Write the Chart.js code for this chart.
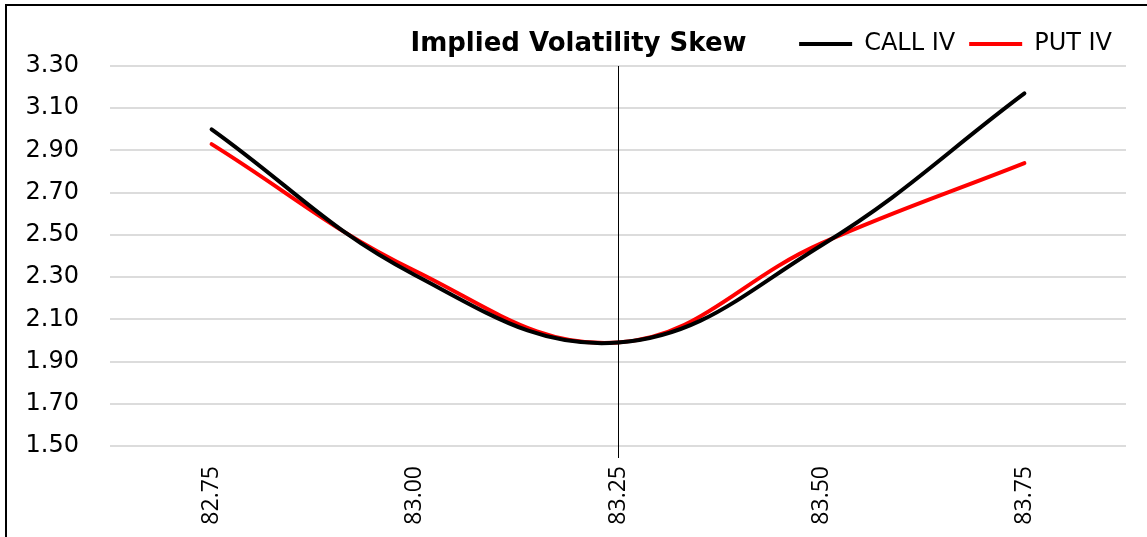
<!DOCTYPE html>
<html>
<head>
<meta charset="utf-8">
<script src="https://cdn.jsdelivr.net/npm/chart.js@4/dist/chart.umd.min.js"></script>
<style>
    html, body { margin: 0; padding: 0; background: #fff; overflow: hidden; }
    #frame {
        position: absolute; left: 5px; top: 4px; width: 1200px; height: 600px;
        border-left: 2px solid #000; border-top: 2px solid #000;
    }
    #wrap { position: absolute; left: 0; top: 0; width: 1147px; height: 537px; }
</style>
</head>
<body>
<div id="frame"></div>
<div id="wrap"><canvas id="ivChart" width="1147" height="537"></canvas></div>
<script>
// Chart data
const strikes = ['82.75', '83.00', '83.25', '83.50', '83.75'];
const callIV = [3.00, 2.31, 1.99, 2.45, 3.17];
const putIV = [2.93, 2.33, 1.99, 2.46, 2.84];
const atmStrike = '83.25';
const chartTitle = 'Implied Volatility Skew';

const font = "'DejaVu Sans', sans-serif";
const strikeFont = "'Open Sans', sans-serif";

// title drawn in the legend row, left of the legend
const titlePlugin = {
    id: 'titleRow',
    afterDraw(chart) {
        const ctx = chart.ctx;
        ctx.save();
        ctx.font = "bold 26px " + font;
        ctx.fillStyle = '#000';
        ctx.textAlign = 'center';
        ctx.textBaseline = 'alphabetic';
        ctx.fillText(chartTitle, chart.width / 2 + 5, 51);
        ctx.restore();
    }
};

// vertical marker at the ATM strike
const atmLine = {
    id: 'atmLine',
    afterDatasetsDraw(chart) {
        const x = Math.round(chart.scales.x.getPixelForValue(atmStrike)) + 0.5;
        const area = chart.chartArea;
        const ctx = chart.ctx;
        ctx.save();
        ctx.strokeStyle = '#000';
        ctx.lineWidth = 1;
        ctx.beginPath();
        ctx.moveTo(x, area.top);
        ctx.lineTo(x, area.bottom + 12);
        ctx.stroke();
        ctx.restore();
    }
};

const ctx = document.getElementById('ivChart').getContext('2d');
new Chart(ctx, {
    type: 'line',
    data: {
        labels: strikes,
        datasets: [
            {
                label: 'CALL IV',
                data: callIV,
                borderColor: '#000000',
                backgroundColor: '#000000',
                borderWidth: 4,
                pointRadius: 0,
                tension: 0.4,
                borderCapStyle: 'round'
            },
            {
                label: 'PUT IV',
                data: putIV,
                borderColor: '#ff0000',
                backgroundColor: '#ff0000',
                borderWidth: 4,
                pointRadius: 0,
                tension: 0.4,
                borderCapStyle: 'round'
            }
        ]
    },
    options: {
        responsive: false,
        animation: false,
        layout: { padding: { left: 20, right: 21, top: 18, bottom: 10 } },
        plugins: {
            title: { display: false },
            tooltip: { enabled: false },
            legend: {
                position: 'top',
                align: 'end',
                labels: {
                    color: '#000',
                    font: { family: font, size: 24 },
                    usePointStyle: true,
                    pointStyle: 'line',
                    pointStyleWidth: 53,
                    padding: 14
                }
            }
        },
        scales: {
            x: {
                offset: true,
                grid: { display: false, drawTicks: false },
                border: { display: false },
                ticks: {
                    color: '#000',
                    font: { family: strikeFont, size: 23 },
                    minRotation: 90,
                    maxRotation: 90,
                    padding: 20
                },
                afterFit(scale) { scale.height = 81; }
            },
            y: {
                min: 1.5,
                max: 3.3,
                grid: { color: '#dcdcdc', lineWidth: 2, drawTicks: false },
                border: { display: false },
                ticks: {
                    stepSize: 0.2,
                    color: '#000',
                    font: { family: font, size: 24 },
                    padding: 31,
                    callback: (v) => Number(v).toFixed(2)
                },
                afterFit(scale) { scale.width = 90; }
            }
        }
    },
    plugins: [titlePlugin, atmLine]
});
</script>
</body>
</html>
